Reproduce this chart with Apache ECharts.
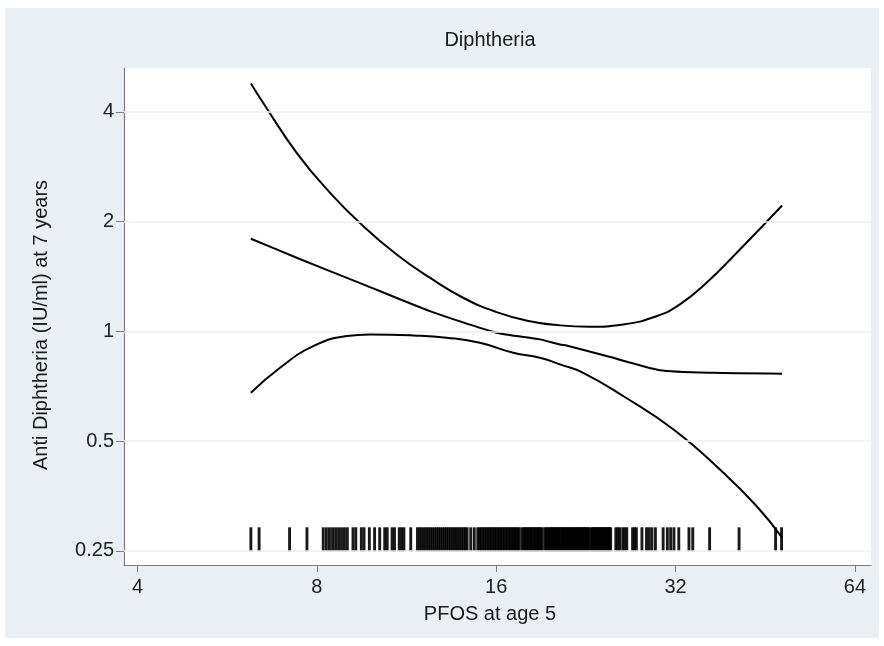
<!DOCTYPE html>
<html><head><meta charset="utf-8">
<script src="https://cdn.jsdelivr.net/npm/echarts@6/dist/echarts.min.js"></script>
<style>html,body{margin:0;padding:0;background:#fff}#c{width:884px;height:646px}</style>
</head><body><div id="c"></div>
<script>
const chartTitle = 'Diphtheria';
const xTitle = 'PFOS at age 5';
const yTitle = 'Anti Diphtheria (IU/ml) at 7 years';
const xTicks = [4, 8, 16, 32, 64];
const yTicks = [0.25, 0.5, 1, 2, 4];

const fitX = [6.2, 7.4, 9.57, 12.38, 16.02, 18.94, 20.47, 21.0, 24.51, 30.12, 37.0, 48.3];
const fitY = [1.796, 1.593, 1.346, 1.137, 0.992, 0.951, 0.921, 0.915, 0.856, 0.783, 0.770, 0.766];

const upperX = [6.2, 6.5, 7.4, 8.42, 9.57, 10.89, 12.38, 14.08, 16.02, 18.22, 20.47, 22.98, 26.13, 29.74, 32.54, 36.07, 41.03, 48.3];
const upperY = [4.79, 4.24, 3.09, 2.40, 1.945, 1.626, 1.404, 1.237, 1.130, 1.067, 1.039, 1.030, 1.045, 1.101, 1.186, 1.360, 1.678, 2.216];

const lowerX = [6.2, 6.94, 7.89, 8.98, 9.82, 11.61, 13.21, 15.02, 17.09, 18.94, 20.47, 22.39, 26.13, 31.71, 38.46, 43.75, 48.3];
const lowerY = [0.679, 0.795, 0.911, 0.971, 0.981, 0.975, 0.961, 0.931, 0.874, 0.847, 0.812, 0.770, 0.665, 0.539, 0.410, 0.332, 0.272];

const rugX = [6.2, 6.4, 7.2, 7.7, 8.2, 8.3, 8.4, 8.5, 8.6, 8.7, 8.8, 8.9, 9.0, 9.2, 9.3, 9.5, 9.6, 9.8, 10.0,
  10.2, 10.4, 10.5, 10.7, 10.8, 11.0, 11.1, 11.2, 11.5,
  11.8, 11.9, 12.0, 12.1, 12.2, 12.3, 12.4, 12.5, 12.6, 12.7, 12.8, 12.9, 13.0, 13.1, 13.2, 13.3, 13.4, 13.5, 13.6, 13.7, 13.8, 13.9, 14.0, 14.1, 14.2, 14.3,
  14.5, 14.7, 14.9, 15.0, 15.1, 15.2, 15.3, 15.4, 15.5, 15.6, 15.7, 15.8, 15.9, 16.0, 16.1, 16.2, 16.3, 16.4, 16.5, 16.6, 16.7, 16.8, 16.9, 17.0, 17.1, 17.2, 17.3, 17.4, 17.5,
  17.7, 17.8, 17.9, 18.0, 18.1, 18.2, 18.3, 18.4, 18.5, 18.6, 18.7, 18.8, 18.9, 19.0, 19.1,
  19.3, 19.4, 19.5, 19.6, 19.7, 19.8, 19.9, 20.0, 20.1, 20.2, 20.3, 20.4, 20.5, 20.6, 20.7, 20.8, 20.9, 21.0, 21.1, 21.2, 21.3, 21.4, 21.5, 21.6, 21.7, 21.8, 21.9, 22.0, 22.1, 22.2, 22.3, 22.4, 22.5, 22.6, 22.7, 22.8, 22.9,
  23.1, 23.2, 23.3, 23.4, 23.5, 23.6, 23.7, 23.8, 23.9, 24.0, 24.1, 24.2, 24.3, 24.4, 24.5, 24.6, 24.7, 24.8, 24.9,
  25.4, 25.6, 25.8, 26.1, 26.3, 26.5, 27.1, 27.3, 27.5, 28.1, 28.6, 28.9, 29.2, 29.6, 30.5, 31.0, 31.4, 31.8, 32.4, 33.7, 34.2, 36.5, 40.9, 47.1, 48.2];
const rugLevel = 0.269;

const FONT = '"Liberation Sans", Arial, sans-serif';
const zip = (xs, ys) => xs.map((x, i) => [x, ys[i]]);

const chart = echarts.init(document.getElementById('c'), null, {renderer: 'canvas'});
chart.setOption({
  animation: false,
  backgroundColor: '#ffffff',
  graphic: [
    {type: 'rect', z: -100, silent: true, shape: {x: 5, y: 8, width: 874, height: 630}, style: {fill: '#e9eff2'}},
    {type: 'text', x: 490, y: 40, style: {text: chartTitle, font: '20px ' + FONT, fill: '#1a1a1a', textAlign: 'center', textVerticalAlign: 'middle'}},
    {type: 'text', x: 490, y: 614, style: {text: xTitle, font: '20px ' + FONT, fill: '#1a1a1a', textAlign: 'center', textVerticalAlign: 'middle'}},
    {type: 'text', x: 41, y: 325, rotation: Math.PI / 2, style: {text: yTitle, font: '20px ' + FONT, fill: '#1a1a1a', textAlign: 'center', textVerticalAlign: 'middle'}}
  ],
  grid: {left: 124, right: 13, top: 68, bottom: 81, show: true, backgroundColor: '#ffffff', borderWidth: 0},
  xAxis: {
    type: 'log', logBase: 2, min: 3.797, max: 68.1,
    axisLine: {show: true, lineStyle: {color: '#7d7d7d', width: 1.2}},
    axisTick: {show: true, customValues: xTicks, length: 7, lineStyle: {color: '#7d7d7d'}},
    axisLabel: {customValues: xTicks, formatter: v => String(Math.round(v)), color: '#222', fontSize: 20, fontFamily: FONT, margin: 12},
    splitLine: {show: false}
  },
  yAxis: {
    type: 'log', logBase: 2, min: 0.2287, max: 5.28,
    axisLine: {show: true, lineStyle: {color: '#7d7d7d', width: 1.2}},
    axisTick: {show: true, customValues: yTicks, length: 8, lineStyle: {color: '#7d7d7d'}},
    axisLabel: {customValues: yTicks, formatter: v => String(+v.toPrecision(3)), color: '#222', fontSize: 20, fontFamily: FONT, margin: 10},
    splitLine: {show: false}
  },
  series: [
    {type: 'line', data: [], silent: true,
     markLine: {silent: true, symbol: 'none', label: {show: false},
       lineStyle: {color: '#efefea', width: 1.5, type: 'solid'},
       data: yTicks.map(v => ({yAxis: v}))}},
    {type: 'scatter', data: rugX.map(x => [x, rugLevel]), symbol: 'rect', symbolSize: [2.9, 24],
     itemStyle: {color: '#000', opacity: 0.9}, silent: true},
    {type: 'line', data: zip(upperX, upperY), smooth: 0.5, showSymbol: false, lineStyle: {color: '#000', width: 2}, silent: true},
    {type: 'line', data: zip(fitX, fitY), smooth: 0.2, showSymbol: false, lineStyle: {color: '#000', width: 2}, silent: true},
    {type: 'line', data: zip(lowerX, lowerY), smooth: 0.5, showSymbol: false, lineStyle: {color: '#000', width: 2}, silent: true}
  ]
});
</script>
</body></html>
